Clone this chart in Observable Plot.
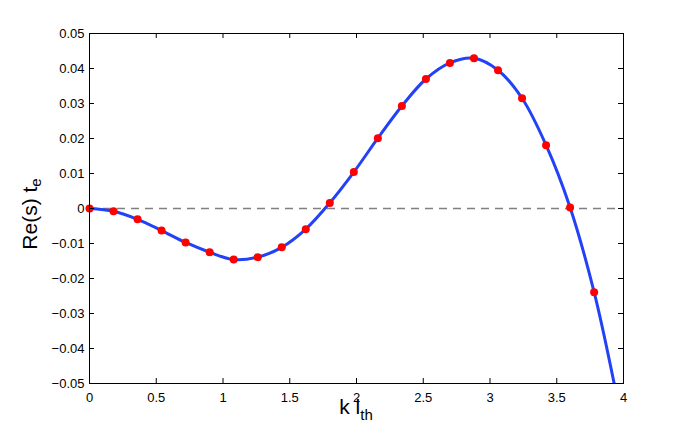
<!DOCTYPE html>
<html>
<head>
<meta charset="utf-8">
<script src="https://cdn.jsdelivr.net/npm/d3@7"></script>
<script src="https://cdn.jsdelivr.net/npm/@observablehq/plot@0.6"></script>
<style>
  html, body { margin: 0; padding: 0; background: #fff; }
  svg { display: block; }
</style>
</head>
<body>
<div id="chart"></div>
<script>
// Sampled points (red dots)
const dotX = [0, 0.18, 0.36, 0.54, 0.72, 0.90, 1.08, 1.26, 1.44, 1.62, 1.80, 1.98, 2.16, 2.34, 2.52, 2.70, 2.88, 3.06, 3.24, 3.42, 3.60, 3.78];
const dotY = [0, -0.0008, -0.0031, -0.0063, -0.0097, -0.0125, -0.0146, -0.0139, -0.0111, -0.0059, 0.0016, 0.0104, 0.0201, 0.0293, 0.0370, 0.0416, 0.0429, 0.0395, 0.0315, 0.0181, 0.0003, -0.0239];
// Continuous curve (blue line): same points plus the point where it leaves the frame
const curveX = [...dotX, 3.93];
const curveY = [...dotY, -0.05];

const xTicks = [0, 0.5, 1, 1.5, 2, 2.5, 3, 3.5, 4];
const xTickLabels = ["0", "0.5", "1", "1.5", "2", "2.5", "3", "3.5", "4"];
const yTicks = [-0.05, -0.04, -0.03, -0.02, -0.01, 0, 0.01, 0.02, 0.03, 0.04, 0.05];
const yTickLabels = ["\u22120.05", "\u22120.04", "\u22120.03", "\u22120.02", "\u22120.01", "0", "0.01", "0.02", "0.03", "0.04", "0.05"];

const dots = dotX.map((x, i) => ({x, y: dotY[i]}));
const curve = curveX.map((x, i) => ({x, y: curveY[i]}));

const W = 688, H = 434;
const mL = 89, mR = 65, mT = 33, mB = 51;
const pw = W - mL - mR, ph = H - mT - mB;
const tick = 5;

const chart = Plot.plot({
  width: W,
  height: H,
  marginLeft: mL,
  marginRight: mR,
  marginTop: mT,
  marginBottom: mB,
  style: {fontFamily: "'Liberation Sans', Arial, Helvetica, sans-serif", background: "#fff", overflow: "visible"},
  x: {domain: [0, 4]},
  y: {domain: [-0.05, 0.05]},
  marks: [
    Plot.ruleY([0], {stroke: "#808080", strokeWidth: 1.5, strokeDasharray: "8,6"}),
    Plot.line(curve, {x: "x", y: "y", curve: "catmull-rom", stroke: "#2342f5", strokeWidth: 3, clip: true}),
    Plot.dot(dots, {x: "x", y: "y", r: 4, fill: "#ff0000", stroke: "none"}),
    // inward ticks on all four sides
    Plot.ruleX(xTicks.slice(1, -1), {x: d => d, insetTop: ph - tick, stroke: "#000"}),
    Plot.ruleX(xTicks.slice(1, -1), {x: d => d, insetBottom: ph - tick, stroke: "#000"}),
    Plot.ruleY(yTicks.slice(1, -1), {y: d => d, insetRight: pw - tick, stroke: "#000"}),
    Plot.ruleY(yTicks.slice(1, -1), {y: d => d, insetLeft: pw - tick, stroke: "#000"}),
    Plot.frame({stroke: "#000", strokeWidth: 1}),
    Plot.axisX({ticks: xTicks, tickSize: 0, tickPadding: 9, fontSize: 13, label: null,
      tickFormat: d => xTickLabels[xTicks.indexOf(d)]}),
    Plot.axisY({ticks: yTicks, tickSize: 0, tickPadding: 5, fontSize: 13, label: null,
      tickFormat: d => yTickLabels[yTicks.findIndex(v => Math.abs(v - d) < 1e-9)]})
  ]
});

const svg = d3.select(chart);
svg.selectAll("g[aria-label='x-axis tick label'] text, g[aria-label='y-axis tick label'] text").attr("fill", "#000");

// y axis title with subscript
const yt = svg.append("text")
  .attr("transform", `translate(37,${mT + ph / 2 + 6}) rotate(-90)`)
  .attr("text-anchor", "middle")
  .attr("font-size", 21)
  .attr("fill", "#000");
yt.append("tspan").text("Re(s) t");
yt.append("tspan").attr("dy", 4).attr("font-size", 15).text("e");

// x axis title with subscript
const xt = svg.append("text")
  .attr("transform", `translate(${mL + pw / 2},414)`)
  .attr("text-anchor", "middle")
  .attr("font-size", 21)
  .attr("fill", "#000");
xt.append("tspan").text("k l");
xt.append("tspan").attr("dy", 6).attr("font-size", 15).text("th");

document.getElementById("chart").appendChild(chart);
</script>
</body>
</html>
